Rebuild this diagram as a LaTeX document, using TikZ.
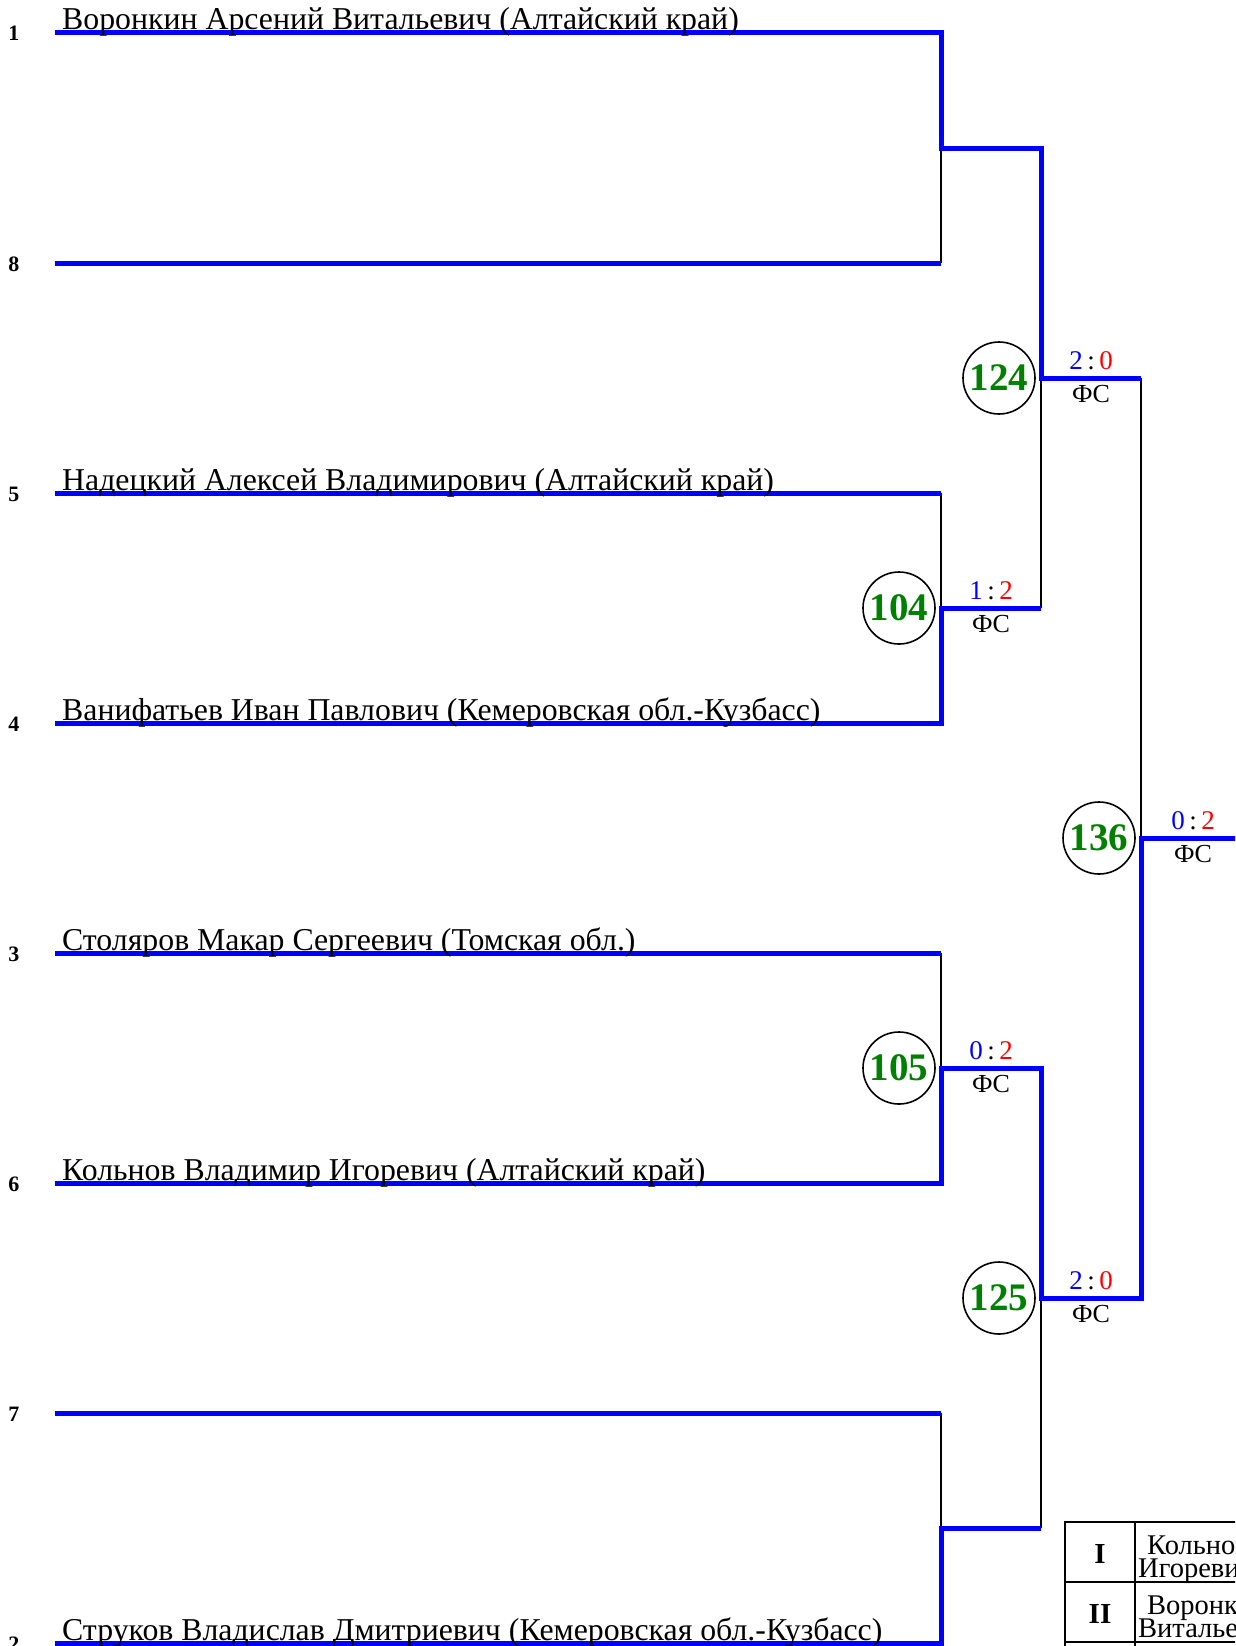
\documentclass[tikz,border=0pt]{standalone}
\usepackage{fontspec}
\setmainfont{Liberation Serif}
\usepackage{xcolor}
\usetikzlibrary{calc}
\definecolor{wblue}{HTML}{0000FF}
\definecolor{sred}{HTML}{FF0000}
\definecolor{bgreen}{HTML}{008000}
\tikzset{win/.style={wblue,line width=5pt},lose/.style={black,line width=1.6pt},
  badge/.style={circle,draw,line width=1.6pt,minimum size=72pt,inner sep=0pt,text=bgreen,font=\fontsize{39}{41}\selectfont\bfseries},
  player/.style={anchor=base west,inner sep=0pt,font=\fontsize{31.8}{33}\selectfont},
  seed/.style={anchor=base,inner sep=0pt,font=\fontsize{22}{24}\selectfont\bfseries},
  score/.style={anchor=base,inner sep=0pt,yshift=9pt,font=\fontsize{27}{29}\selectfont},
  method/.style={anchor=base,inner sep=0pt,yshift=-24pt,font=\fontsize{26}{28}\selectfont},
  tbl/.style={black,line width=2pt},
  place/.style={anchor=center,inner sep=0pt,font=\fontsize{29}{31}\selectfont\bfseries},
  cell/.style={anchor=base west,inner sep=0pt,font=\fontsize{28.5}{30}\selectfont}}
\newcommand{\res}[2]{\textcolor{wblue}{#1}\,:\,\textcolor{sred}{#2}}

\begin{document}
\begin{tikzpicture}[x=1pt,y=-1pt]
\useasboundingbox (0,0) rectangle (1235,1646);
\clip (0,0) rectangle (1235,1646);

% ============ bracket points ============
\coordinate (p1) at (55,33);   \coordinate (e1) at (941,33);
\coordinate (p8) at (55,263);  \coordinate (e8) at (941,263);
\coordinate (p5) at (55,493);  \coordinate (e5) at (941,493);
\coordinate (p4) at (55,723);  \coordinate (e4) at (941,723);
\coordinate (p3) at (55,953);  \coordinate (e3) at (941,953);
\coordinate (p6) at (55,1183); \coordinate (e6) at (941,1183);
\coordinate (p7) at (55,1413); \coordinate (e7) at (941,1413);
\coordinate (p2) at (55,1643); \coordinate (e2) at (941,1643);
\coordinate (m1) at (941,148);  \coordinate (q1) at (1041,148);
\coordinate (m2) at (941,608);  \coordinate (q2) at (1041,608);
\coordinate (m3) at (941,1068); \coordinate (q3) at (1041,1068);
\coordinate (m4) at (941,1528); \coordinate (q4) at (1041,1528);
\coordinate (n1) at (1041,378);  \coordinate (r1) at (1141,378);
\coordinate (n2) at (1041,1298); \coordinate (r2) at (1141,1298);
\coordinate (fin) at (1141,838); \coordinate (champ) at (1240,838);

% ============ lost halves ============
\draw[lose] (m1) -- (e8);
\draw[lose] (e5) -- (m2);
\draw[lose] (e3) -- (m3);
\draw[lose] (e7) -- (m4);
\draw[lose] (n1) -- (q2);
\draw[lose] (n2) -- (q4);
\draw[lose] (r1) -- (fin);

% ============ each player's way ============
\draw[win] (p1) -- (e1) -- (m1) -- (q1) -- (n1) -- (r1);
\draw[win] (p8) -- (e8);
\draw[win] (p5) -- (e5);
\draw[win] (p4) -- (e4) -- (m2) -- (q2);
\draw[win] (p3) -- (e3);
\draw[win] (p6) -- (e6) -- (m3) -- (q3) -- (n2) -- (r2) -- (fin) -- (champ);
\draw[win] (p7) -- (e7);
\draw[win] (p2) -- (e2) -- (m4) -- (q4);

% ============ seeds and names ============
\node[seed] (sd1) at ([xshift=-41pt,yshift=-8pt]p1) {1};
\node[seed] (sd8) at ([xshift=-41pt,yshift=-8pt]p8) {8};
\node[seed] (sd5) at ([xshift=-41pt,yshift=-8pt]p5) {5};
\node[seed] (sd4) at ([xshift=-41pt,yshift=-8pt]p4) {4};
\node[seed] (sd3) at ([xshift=-41pt,yshift=-8pt]p3) {3};
\node[seed] (sd6) at ([xshift=-41pt,yshift=-8pt]p6) {6};
\node[seed] (sd7) at ([xshift=-41pt,yshift=-8pt]p7) {7};
\node[seed] (sd2) at ([xshift=-41pt,yshift=-8pt]p2) {2};
\node[player] (nm1) at ([xshift=7pt,yshift=3pt]p1) {Воронкин Арсений Витальевич (Алтайский край)};
\node[player] (nm5) at ([xshift=7pt,yshift=3pt]p5) {Надецкий Алексей Владимирович (Алтайский край)};
\node[player] (nm4) at ([xshift=7pt,yshift=3pt]p4) {Ванифатьев Иван Павлович (Кемеровская обл.-Кузбасс)};
\node[player] (nm3) at ([xshift=7pt,yshift=3pt]p3) {Столяров Макар Сергеевич (Томская обл.)};
\node[player] (nm6) at ([xshift=7pt,yshift=3pt]p6) {Кольнов Владимир Игоревич (Алтайский край)};
\node[player] (nm2) at ([xshift=7pt,yshift=3pt]p2) {Струков Владислав Дмитриевич (Кемеровская обл.-Кузбасс)};

% ============ bouts ============
\node[badge] (b104) at ([xshift=-42pt]m2) {104};
\node[score] (sc104) at ($(m2)!.5!(q2)$) {\res{1}{2}};
\node[method] (fs104) at ($(m2)!.5!(q2)$) {ФС};
\node[badge] (b105) at ([xshift=-42pt]m3) {105};
\node[score] (sc105) at ($(m3)!.5!(q3)$) {\res{0}{2}};
\node[method] (fs105) at ($(m3)!.5!(q3)$) {ФС};
\node[badge] (b124) at ([xshift=-42pt]n1) {124};
\node[score] (sc124) at ($(n1)!.5!(r1)$) {\res{2}{0}};
\node[method] (fs124) at ($(n1)!.5!(r1)$) {ФС};
\node[badge] (b125) at ([xshift=-42pt]n2) {125};
\node[score] (sc125) at ($(n2)!.5!(r2)$) {\res{2}{0}};
\node[method] (fs125) at ($(n2)!.5!(r2)$) {ФС};
\node[badge] (b136) at ([xshift=-42pt]fin) {136};
\node[score] (sc136) at ([xshift=52pt]fin) {\res{0}{2}};
\node[method] (fs136) at ([xshift=52pt]fin) {ФС};

% ============ places table ============
\draw[tbl] (1065,1522) rectangle (1300,1700);
\draw[tbl] (1135,1522) -- (1135,1700);
\draw[tbl] (1065,1582) -- (1300,1582);
\draw[tbl] (1065,1642) -- (1300,1642);
\node[place] (pl1) at (1100,1554) {I};
\node[place] (pl2) at (1100,1614) {II};
\node[cell] (c1a) at (1147,1554) {Кольнов};
\node[cell] (c1b) at (1138,1577) {Игоревич};
\node[cell] (c2a) at (1147,1614) {Воронкин};
\node[cell] (c2b) at (1138,1637) {Витальевич};

\end{tikzpicture}
\end{document}
